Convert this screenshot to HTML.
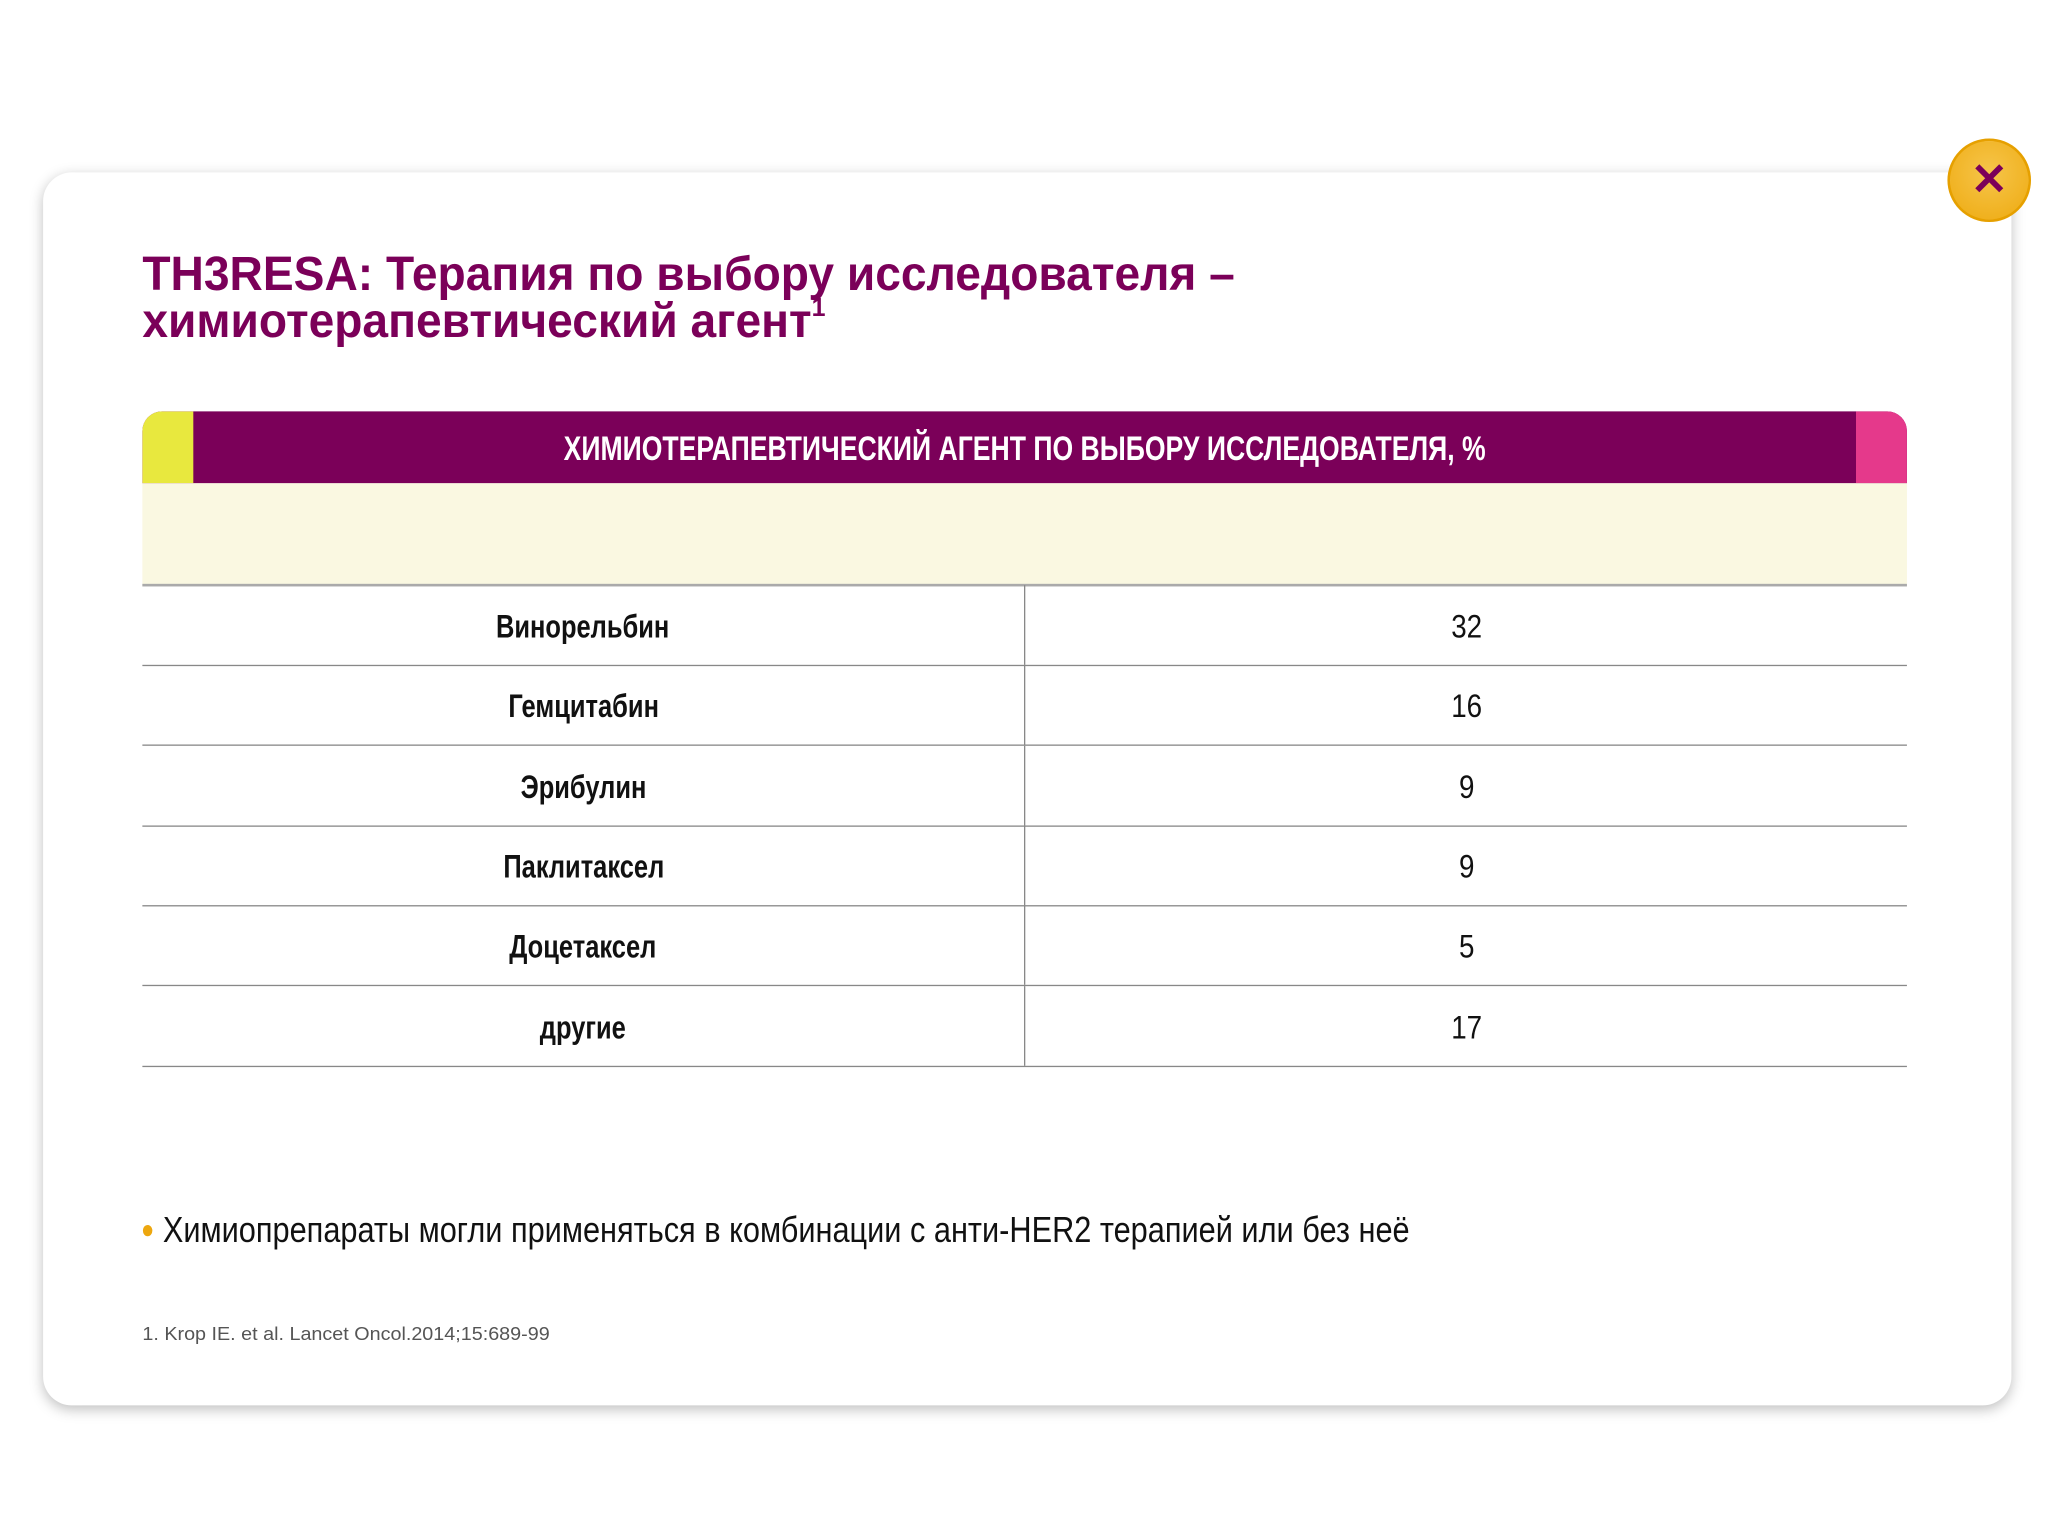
<!DOCTYPE html>
<html><head><meta charset="utf-8"><style>
html,body{margin:0;padding:0;background:#fff;width:2048px;height:1536px;overflow:hidden}
#s{position:absolute;left:0;top:0;width:1568px;height:1176px;transform:scale(1.30612);transform-origin:0 0;font-family:"Liberation Sans",sans-serif}
.card{position:absolute;left:33px;top:132px;width:1507px;height:944px;background:#fff;border-radius:22px;box-shadow:0 3px 10px rgba(0,0,0,.25)}
.close{position:absolute;left:1491px;top:106px;width:60px;height:60px;border-radius:50%;background:radial-gradient(circle at 50% 40%,#f6c54a,#eeaa10);border:2px solid #e6a000;color:#7b0059;font:bold 34px "Liberation Sans",sans-serif;text-align:center;line-height:60px}
.title{position:absolute;left:109px;top:192px;color:#7b0059;font:bold 37px/36px "Liberation Sans",sans-serif;white-space:nowrap;transform:scaleX(0.955);transform-origin:0 0}
.title sup{font-size:20px;vertical-align:16px;line-height:0}
.hdr{position:absolute;left:109px;top:315px;width:1351px;height:55px;border-radius:15px 15px 0 0;overflow:hidden;background:#7b0059}
.hdr .y{position:absolute;left:0;top:0;width:39px;height:55px;background:#e8e83e}
.hdr .p{position:absolute;right:0;top:0;width:39px;height:55px;background:#e5398b}
.hdr .t{position:absolute;left:0;right:0;top:0;line-height:57px;text-align:center;color:#fff;font-weight:bold;font-size:26px;white-space:nowrap;transform:scaleX(0.783)}
.cream{position:absolute;left:109px;top:370px;width:1351px;height:77px;background:#faf8e1;border-bottom:2px solid #aaa}
.row{position:absolute;left:109px;width:1351px;height:61px;border-bottom:1px solid #888}
.row .l,.row .r{position:absolute;top:0;height:61px;line-height:64px;text-align:center;font-size:25px;color:#111}
.row .l{left:0;width:675px;font-weight:bold;border-right:1px solid #888}
.row .r{left:676px;width:675px}
.row span{display:inline-block}
.row .l span{transform:scaleX(0.78)}
.row .r span{transform:scaleX(0.85)}
.bullet{position:absolute;left:108px;top:926px;font-size:28px;color:#111;white-space:nowrap;transform:scaleX(0.84);transform-origin:0 0}
.bullet b{color:#eda70f;font-size:20px;vertical-align:3px}
.foot{position:absolute;left:109px;top:1013px;font:14px "Liberation Sans",sans-serif;color:#555;white-space:nowrap;transform:scaleX(1.08);transform-origin:0 0}
</style></head><body><div id="s">
<div class="card"></div>
<div class="close">✕</div>
<div class="title">TH3RESA: Терапия по выбору исследователя –<br>химиотерапевтический агент<sup>1</sup></div>
<div class="hdr"><div class="y"></div><div class="p"></div><div class="t">ХИМИОТЕРАПЕВТИЧЕСКИЙ АГЕНТ ПО ВЫБОРУ ИССЛЕДОВАТЕЛЯ, %</div></div>
<div class="cream"></div>
<div id="rows"></div>
<div class="bullet"><b>●</b> Химиопрепараты могли применяться в комбинации с анти-HER2 терапией или без неё</div>
<div class="foot">1. Krop IE. et al. Lancet Oncol.2014;15:689-99</div>
</div>
<script>
const agents=["Винорельбин","Гемцитабин","Эрибулин","Паклитаксел","Доцетаксел","другие"];
const percents=[32,16,9,9,5,17];
const c=document.getElementById('rows');
agents.forEach((a,i)=>{
 const r=document.createElement('div');
 r.className='row';r.style.top=(448+i*61.3)+'px';
 
 
 const l=document.createElement('div');l.className='l';
 const ls=document.createElement('span');ls.textContent=a;l.appendChild(ls);
 
 
 const v=document.createElement('div');v.className='r';
 const vs=document.createElement('span');vs.textContent=percents[i];v.appendChild(vs);
 
 
 r.appendChild(l);r.appendChild(v);c.appendChild(r);
});
</script>
</body></html>
